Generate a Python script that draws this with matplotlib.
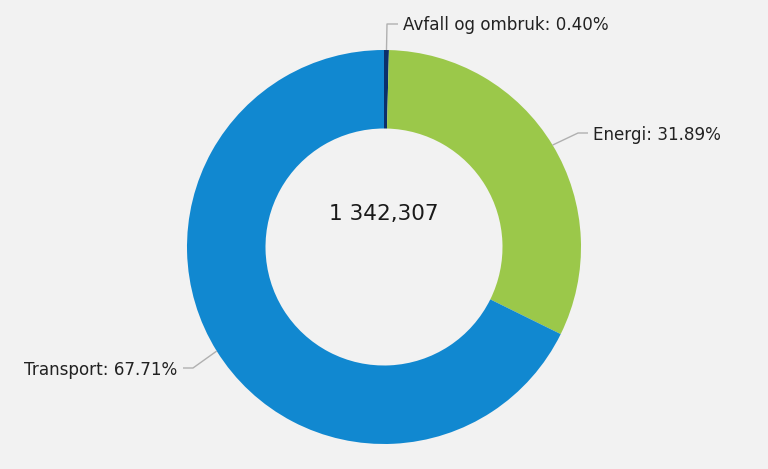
import numpy as np
import matplotlib
matplotlib.use("Agg")
import matplotlib.pyplot as plt

categories = ["Avfall og ombruk", "Energi", "Transport"]
percents = [0.40, 31.89, 67.71]
colors = ["#0b2f6b", "#9bc84a", "#1188d0"]
total_label = "1 342,307"

W, H = 768, 469
fig = plt.figure(figsize=(W / 100, H / 100), dpi=100)
fig.patch.set_facecolor("#f2f2f2")
ax = fig.add_axes([0, 0, 1, 1])
ax.set_facecolor("#f2f2f2")

R = 197.0
cx, cy = 384.0, 247.0
ax.pie(percents, colors=colors, startangle=90, counterclock=False,
       radius=1.0, wedgeprops=dict(width=1 - 118.5 / R, linewidth=0))
ax.set_xlim(-cx / R, (W - cx) / R)
ax.set_ylim(-(H - cy) / R, cy / R)
ax.set_aspect("auto")
ax.axis("off")

def px(x, y):
    return (x - cx) / R, (cy - y) / R

# label layout: (corner point, horizontal end, text anchor x, ha) in pixels
layout = [
    ((387, 24), 398, 403, "left"),
    ((578, 133), 588, 593, "left"),
    ((193, 368), 183, 177, "right"),
]

cum = 0.0
for cat, p, (corner, hend, tx, ha) in zip(categories, percents, layout):
    mid = 90 - (cum + p / 2) * 3.6
    cum += p
    sx, sy = np.cos(np.radians(mid)), np.sin(np.radians(mid))
    c = px(*corner)
    h = px(hend, corner[1])
    ax.plot([sx, c[0], h[0]], [sy, c[1], h[1]], color="#b0b0b0", lw=1.0,
            solid_capstyle="butt")
    t = px(tx, corner[1] + 1.5)
    ax.text(t[0], t[1], f"{cat}: {p:.2f}%", ha=ha, va="center",
            fontsize=12.1, color="#222222", family="DejaVu Sans")

ct = px(384, 214)
ax.text(ct[0], ct[1], total_label, ha="center", va="center",
        fontsize=15.6, color="#1a1a1a", family="DejaVu Sans")

fig.savefig("out.png", dpi=100, facecolor=fig.get_facecolor())
